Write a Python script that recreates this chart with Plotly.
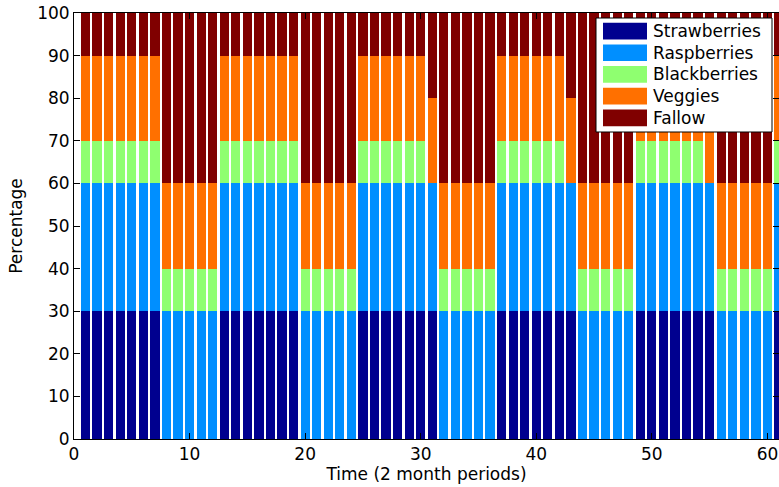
import plotly.graph_objects as go

# ---- data (percent of land per 2-month period) ----
periods = list(range(1, 62))
categories = ["Strawberries", "Raspberries", "Blackberries", "Veggies", "Fallow"]

strawberries = [30, 30, 30, 30, 30, 30, 30,  0, 0, 0, 0, 0,
                30, 30, 30, 30, 30, 30, 30,  0, 0, 0, 0, 0,
                30, 30, 30, 30, 30, 30, 30,  0, 0, 0, 0, 0,
                30, 30, 30, 30, 30, 30, 30,  0, 0, 0, 0, 0,
                30, 30, 30, 30, 30, 30, 30,  0, 0, 0, 0, 0,
                30]
raspberries = [30, 30, 30, 30, 30, 30, 30, 30, 30, 30, 30, 30,
               30, 30, 30, 30, 30, 30, 30, 30, 30, 30, 30, 30,
               30, 30, 30, 30, 30, 30, 30, 30, 30, 30, 30, 30,
               30, 30, 30, 30, 30, 30, 30, 30, 30, 30, 30, 30,
               30, 30, 30, 30, 30, 30, 30, 30, 30, 30, 30, 30,
               30]
blackberries = [10, 10, 10, 10, 10, 10, 10, 10, 10, 10, 10, 10,
                10, 10, 10, 10, 10, 10, 10, 10, 10, 10, 10, 10,
                10, 10, 10, 10, 10, 10,  0, 10, 10, 10, 10, 10,
                10, 10, 10, 10, 10, 10,  0, 10, 10, 10, 10, 10,
                10, 10, 10, 10, 10, 10,  0, 10, 10, 10, 10, 10,
                10]
veggies = [20, 20, 20, 20, 20, 20, 20, 20, 20, 20, 20, 20,
           20, 20, 20, 20, 20, 20, 20, 20, 20, 20, 20, 20,
           20, 20, 20, 20, 20, 20, 20, 20, 20, 20, 20, 20,
           20, 20, 20, 20, 20, 20, 20, 20, 20, 20, 20, 20,
           20, 20, 20, 20, 20, 20, 20, 20, 20, 20, 20, 20,
           20]
fallow = [10, 10, 10, 10, 10, 10, 10, 40, 40, 40, 40, 40,
          10, 10, 10, 10, 10, 10, 10, 40, 40, 40, 40, 40,
          10, 10, 10, 10, 10, 10, 20, 40, 40, 40, 40, 40,
          10, 10, 10, 10, 10, 10, 20, 40, 40, 40, 40, 40,
          10, 10, 10, 10, 10, 10, 20, 40, 40, 40, 40, 40,
          10]
x_ticks = [0, 10, 20, 30, 40, 50, 60]
y_ticks = [0, 10, 20, 30, 40, 50, 60, 70, 80, 90, 100]

# ---- styles ----
colors = ["#00008F", "#008FFF", "#8FFF70", "#FF7000", "#800000"]
FONT = "DejaVu Sans"
W, H = 779, 487
ML, MR, MT, MB = 74, 0, 13, 48

series = [strawberries, raspberries, blackberries, veggies, fallow]

fig = go.Figure()
for name, vals, col in zip(categories, series, colors):
    fig.add_trace(go.Bar(x=periods, y=vals, name=name,
                         marker=dict(color=col, line=dict(width=0)),
                         showlegend=False))

axis_common = dict(showline=True, linecolor="black", linewidth=1,
                   ticks="inside", ticklen=6, tickcolor="black",
                   mirror="allticks", showgrid=False, zeroline=False,
                   tickfont=dict(family=FONT, size=17, color="black"))

fig.update_layout(
    width=W, height=H,
    margin=dict(l=ML, r=MR, t=MT, b=MB, pad=0),
    paper_bgcolor="white", plot_bgcolor="white",
    barmode="stack", bargap=0.2,
    xaxis=dict(range=[0, 61], tickvals=x_ticks,
               title=dict(text="Time (2 month periods)", standoff=1,
                          font=dict(family=FONT, size=17, color="black")),
               **axis_common),
    yaxis=dict(range=[0, 100], tickvals=y_ticks,
               title=dict(text="Percentage", standoff=10,
                          font=dict(family=FONT, size=17, color="black")),
               **axis_common),
)

# ---- legend box (drawn in paper coordinates, MATLAB-style) ----
pw = W - ML - MR
ph = H - MT - MB
def px_x(p):
    return (p - ML) / pw
def px_y(p):
    return (H - MB - p) / ph

box_l, box_r, box_t, box_b = 596, 772, 18, 132
fig.add_shape(type="rect", xref="paper", yref="paper",
              x0=px_x(box_l), x1=px_x(box_r), y0=px_y(box_b), y1=px_y(box_t),
              fillcolor="white", line=dict(color="black", width=1), layer="above")
row_top, row_step, sw_h = 22.7, 21.7, 16.7
sw_l, sw_r, txt_l = 603, 647, 651
for i, (name, col) in enumerate(zip(categories, colors)):
    t = row_top + i * row_step
    fig.add_shape(type="rect", xref="paper", yref="paper",
                  x0=px_x(sw_l), x1=px_x(sw_r), y0=px_y(t + sw_h), y1=px_y(t),
                  fillcolor=col, line=dict(width=0), layer="above")
    fig.add_annotation(xref="paper", yref="paper",
                       x=px_x(txt_l), y=px_y(t + sw_h / 2),
                       text=name, showarrow=False, xanchor="left", yanchor="middle",
                       font=dict(family=FONT, size=17, color="black"))

fig.write_html("out.html")
